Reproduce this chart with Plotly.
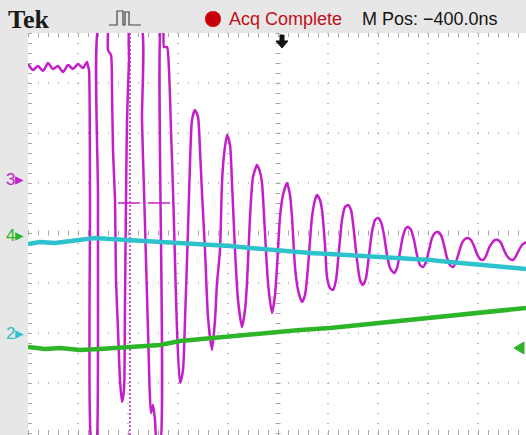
import plotly.graph_objects as go

# ---------------- data (screen divisions: x 0..10, y -4..4) ----------------
ch3_t = [0, 0.10, 0.20, 0.30, 0.40, 0.50, 0.60, 0.70, 0.80, 0.90, 1.00, 1.10, 1.18, 1.20,
         1.22, 1.24, 1.26, 1.34, 1.38, 1.40, 1.42, 1.58, 1.60, 1.66, 1.68, 1.70, 1.74, 1.76,
         1.80, 1.84, 1.88, 1.92, 1.94, 1.96, 1.98, 2.02, 2.04, 2.26, 2.28, 2.32, 2.36, 2.40,
         2.46, 2.50, 2.54, 2.58, 2.64, 2.66, 2.70, 2.72, 2.78, 2.82, 2.86, 2.90, 2.94, 2.98,
         3.04, 3.10, 3.14, 3.20, 3.24, 3.28, 3.34, 3.40, 3.44, 3.48, 3.54, 3.60, 3.68, 3.74,
         3.78, 3.84, 3.88, 3.92, 3.98, 4.04, 4.08, 4.14, 4.20, 4.28, 4.34, 4.38, 4.44, 4.50,
         4.58, 4.64, 4.68, 4.74, 4.80, 4.88, 4.94, 4.98, 5.04, 5.10, 5.18, 5.24, 5.28, 5.34,
         5.40, 5.48, 5.54, 5.60, 5.68, 5.74, 5.78, 5.84, 5.88, 5.94, 5.98, 6.04, 6.10, 6.16,
         6.22, 6.28, 6.34, 6.40, 6.46, 6.52, 6.58, 6.64, 6.70, 6.76, 6.82, 6.88, 6.94, 7.00,
         7.06, 7.12, 7.18, 7.24, 7.32, 7.38, 7.44, 7.50, 7.56, 7.60, 7.66, 7.72, 7.78, 7.84,
         7.90, 7.96, 8.02, 8.08, 8.14, 8.20, 8.26, 8.32, 8.38, 8.44, 8.50, 8.56, 8.62, 8.68,
         8.74, 8.80, 8.86, 8.92, 8.98, 9.04, 9.10, 9.16, 9.22, 9.28, 9.34, 9.40, 9.46, 9.52,
         9.58, 9.64, 9.70, 9.76, 9.82, 9.88, 9.96]
ch3_v = [3.38, 3.26, 3.34, 3.24, 3.40, 3.28, 3.34, 3.22, 3.36, 3.28, 3.38, 3.30, 3.42, 3.34,
         3.26, 0.66, -4.14, -4.34, -4.14, 0.66, 4.16, 4.16, 3.66, 3.56, 2.86, 1.66, 0.66, -0.94,
         -1.94, -2.94, -3.38, -3.14, -1.34, 0.66, 2.26, 3.46, 4.16, 4.16, 2.26, 0.86, -0.54, -1.94,
         -3.60, -3.44, -3.74, -4.24, -4.24, 4.16, 4.16, 3.72, 3.72, 3.26, 2.06, 0.86, -0.54, -1.94,
         -3.00, -2.74, -1.74, 0.06, 1.40, 2.26, 2.46, 2.32, 1.66, 0.80, -0.34, -1.68, -2.34, -1.74,
         -1.00, -0.34, 1.00, 1.56, 1.96, 1.76, 1.00, -0.34, -1.34, -1.88, -1.54, -1.00, 0.32, 1.12,
         1.36, 1.22, 1.00, 0.00, -1.00, -1.60, -1.24, -0.68, 0.32, 0.76, 1.00, 0.76, 0.32, -0.68,
         -1.14, -1.38, -1.24, -0.68, 0.32, 0.66, 0.76, 0.66, 0.46, -0.24, -0.88, -1.10, -1.14, -0.94,
         -0.34, 0.26, 0.52, 0.56, 0.46, 0.02, -0.54, -0.94, -1.04, -0.90, -0.44, 0.02, 0.26, 0.30,
         0.22, -0.04, -0.44, -0.70, -0.80, -0.70, -0.38, -0.06, 0.10, 0.12, 0.06, -0.14, -0.44, -0.64,
         -0.68, -0.58, -0.34, -0.10, 0.00, 0.02, -0.04, -0.24, -0.50, -0.64, -0.68, -0.58, -0.38, -0.20,
         -0.12, -0.10, -0.14, -0.26, -0.42, -0.52, -0.54, -0.46, -0.30, -0.20, -0.14, -0.14, -0.20, -0.34,
         -0.46, -0.52, -0.54, -0.46, -0.34, -0.24, -0.18]

ch2_t = [0, 0.24, 0.54, 0.84, 1.14, 1.34, 1.64, 2.04, 2.44, 2.84, 3.24, 3.64, 4.04, 4.44,
         4.84, 5.24, 5.64, 6.04, 6.44, 6.84, 7.24, 7.64, 8.04, 8.44, 8.84, 9.24, 9.64, 9.96]
ch2_v = [-0.22, -0.18, -0.20, -0.16, -0.14, -0.10, -0.12, -0.14, -0.16, -0.18, -0.20, -0.24,
         -0.26, -0.30, -0.34, -0.38, -0.40, -0.42, -0.44, -0.46, -0.48, -0.50, -0.54, -0.58,
         -0.62, -0.64, -0.68, -0.72]

ch4_t = [0, 0.34, 0.64, 1.04, 1.44, 1.84, 2.24, 2.64, 3.04, 3.44, 3.84, 4.24, 4.64, 5.04,
         5.44, 6.04, 6.64, 7.44, 8.24, 9.04, 9.44, 9.96]
ch4_v = [-2.28, -2.32, -2.30, -2.34, -2.32, -2.30, -2.28, -2.24, -2.16, -2.12, -2.10, -2.06,
         -2.02, -1.98, -1.94, -1.90, -1.84, -1.74, -1.66, -1.60, -1.56, -1.50]

cursor_t = 2.04
marker_t = [1.80, 2.24, None, 2.40, 2.84]
marker_v = [0.60, 0.60, None, 0.60, 0.60]

MAGENTA = "#c41ecb"
CYAN = "#2ec2cc"
GREEN = "#2db52a"
GRID = "#a8a8a8"

W, H = 526, 435
L, T = 28, 33
PW, PH = W - L, H - T


def px(x):
    return (x - L) / PW


def py(y):
    return (H - y) / PH


fig = go.Figure()
fig.add_trace(go.Scatter(x=ch3_t, y=ch3_v, mode="lines",
                         line=dict(color=MAGENTA, width=2.5, shape="spline", smoothing=0.6),
                         hoverinfo="skip"))
fig.add_trace(go.Scatter(x=[cursor_t, cursor_t], y=[4, -4.1], mode="lines",
                         line=dict(color=MAGENTA, width=1.5, dash="2px,2px"), hoverinfo="skip"))
fig.add_trace(go.Scatter(x=marker_t, y=marker_v, mode="lines",
                         line=dict(color=MAGENTA, width=1.5), hoverinfo="skip"))
fig.add_trace(go.Scatter(x=ch2_t, y=ch2_v, mode="lines",
                         line=dict(color=CYAN, width=4.5), hoverinfo="skip"))
fig.add_trace(go.Scatter(x=ch4_t, y=ch4_v, mode="lines",
                         line=dict(color=GREEN, width=4.5), hoverinfo="skip"))

shapes = []
# graticule dots
for k in range(1, 10):
    w = 5 if k == 5 else 1.6
    shapes.append(dict(type="line", xref="x", yref="y", x0=k, x1=k, y0=4, y1=-4.04,
                       line=dict(color=GRID, width=w, dash="1px,9px"), layer="below"))
for k in range(-3, 4):
    w = 5 if k == 0 else 1.6
    shapes.append(dict(type="line", xref="x", yref="y", x0=0, x1=9.96, y0=k, y1=k,
                       line=dict(color=GRID, width=w, dash="1px,9px"), layer="below"))
# edge rulers
shapes.append(dict(type="line", xref="x", yref="y", x0=0, x1=9.96, y0=4, y1=4,
                   line=dict(color=GRID, width=8, dash="1px,9px"), layer="below"))
shapes.append(dict(type="line", xref="x", yref="y", x0=0, x1=9.96, y0=-4, y1=-4,
                   line=dict(color=GRID, width=6, dash="1px,9px"), layer="below"))
shapes.append(dict(type="line", xref="x", yref="y", x0=0, x1=0, y0=4, y1=-4.04,
                   line=dict(color=GRID, width=8, dash="1px,9px"), layer="below"))

# red acquisition dot
shapes.append(dict(type="circle", xref="paper", yref="paper",
                   x0=px(205), x1=px(221), y0=py(27), y1=py(11),
                   fillcolor="#c8000a", line=dict(width=0)))


def path(points):
    return "M " + " L ".join(f"{px(a):.5f},{py(b):.5f}" for a, b in points)


# trigger icon in the top bar
shapes.append(dict(type="path", xref="paper", yref="paper",
                   path=path([(109, 25), (117, 25), (117, 11), (123, 11), (123, 25),
                              (125, 25), (125, 12), (129, 12), (129, 25), (141, 25)]),
                   line=dict(color="#444", width=1.2)))
# trigger position arrow
shapes.append(dict(type="path", xref="paper", yref="paper",
                   path=path([(280, 35), (284, 35), (284, 41), (288, 41), (282, 48),
                              (276, 41), (280, 41)]) + " Z",
                   fillcolor="#111", line=dict(color="#111", width=1)))
# ch4 right-edge level marker
shapes.append(dict(type="path", xref="paper", yref="paper",
                   path=path([(524, 342), (524, 354), (514, 348)]) + " Z",
                   fillcolor=GREEN, line=dict(color=GREEN, width=1)))

ann = []


def text(x, y, s, color, size, family, anchor="left"):
    ann.append(dict(x=px(x), y=py(y), xref="paper", yref="paper", text=s, showarrow=False,
                    xanchor=anchor, yanchor="middle",
                    font=dict(color=color, size=size, family=family)))


text(6, 19, "<b>Tek</b>", "#1a1a1a", 26, "Liberation Serif, serif")
text(227, 19, "Acq Complete", "#c0101a", 18, "Liberation Sans Narrow, Liberation Sans, sans-serif")
text(360, 19, "M Pos: \u2212400.0ns", "#151515", 18, "Liberation Sans Narrow, Liberation Sans, sans-serif")
text(4, 180, "3\u25B8", MAGENTA, 17, "Liberation Sans, sans-serif")
text(4, 235, "4\u25B8", GREEN, 17, "Liberation Sans, sans-serif")
text(4, 333, "2\u25B8", CYAN, 17, "Liberation Sans, sans-serif")

fig.update_layout(
    width=W, height=H,
    margin=dict(l=L, r=0, t=T, b=0, pad=0, autoexpand=False),
    paper_bgcolor="#e7e7e7",
    plot_bgcolor="#ffffff",
    showlegend=False,
    xaxis=dict(range=[0, 9.96], visible=False, fixedrange=True),
    yaxis=dict(range=[-4.04, 4], visible=False, fixedrange=True),
    shapes=shapes,
    annotations=ann,
)

fig.write_html("out.html", config={"displayModeBar": False},
               post_script="document.body.style.margin='0';document.body.style.overflow='hidden';")
